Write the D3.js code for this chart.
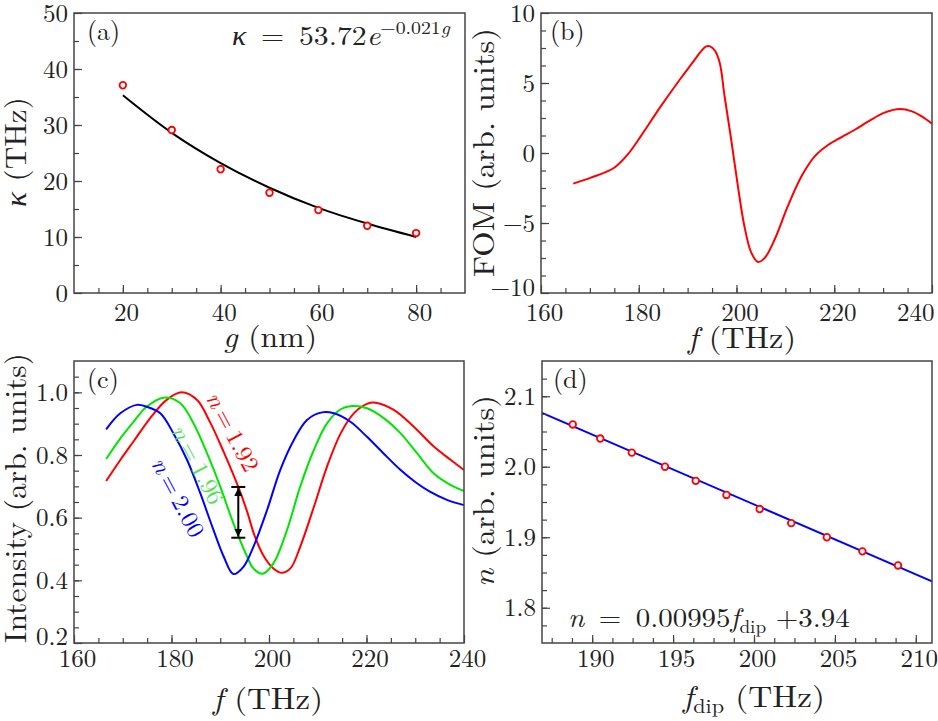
<!DOCTYPE html>
<html><head><meta charset="utf-8">
<script src="https://cdn.jsdelivr.net/npm/d3@7"></script>
<style>body{margin:0;background:#fff}</style>
</head><body>
<script>
// ---------- DATA ----------
// (a) coupling vs gap
const gapNm = [20, 30, 40, 50, 60, 70, 80];
const kappaTHz = [37.1, 29.1, 22.1, 17.9, 14.8, 12.0, 10.7];
const fitGap = [20, 30, 40, 50, 60, 70, 80];
const fitKappa = [35.3, 28.6, 23.2, 18.8, 15.2, 12.4, 10.0];
const aXTicks = [20, 40, 60, 80];
const aYTicks = [0, 10, 20, 30, 40, 50];

// (b) FOM spectrum
const fomFreq = [166.6,170.1,174.9,177.7,180.4,184.5,188.6,191.0,192.6,193.7,194.6,195.6,196.6,197.5,198.2,198.9,200.3,201.6,203.0,204.4,205.8,207.8,210.5,213.3,216.0,218.8,221.5,224.2,227.0,230.4,233.5,235.9,237.9,240];
const fomVal = [-2.19,-1.78,-1.07,-0.12,1.19,3.33,5.34,6.45,7.2,7.6,7.62,7.3,6.4,4.2,2.6,1.0,-2.4,-5.2,-7.1,-7.79,-7.48,-6.18,-3.8,-1.66,-0.24,0.59,1.14,1.66,2.26,2.9,3.14,2.97,2.61,2.09];
const bXTicks = [160, 180, 200, 220, 240];
const bYTicks = [-10, -5, 0, 5, 10];

// (c) transmission spectra for three refractive indices
const freqN192 = [166.6,169.5,172.2,175.6,179.0,182.1,185.2,187.9,190.7,193.7,195.5,197.1,199.0,200.9,202.6,204.4,206.4,209.2,211.9,214.7,217.4,220.1,221.8,225.6,229.7,233.8,237.3,240];
const intN192 = [0.717,0.784,0.843,0.917,0.976,1.0,0.976,0.905,0.81,0.698,0.62,0.54,0.475,0.438,0.424,0.438,0.507,0.634,0.763,0.869,0.933,0.963,0.967,0.944,0.89,0.827,0.784,0.752];
const freqN196 = [166.6,169.5,172.2,174.9,178.4,181.8,184.5,187.3,190.0,192.7,195.5,196.8,198.7,200.9,203.7,206.4,209.2,211.9,214.7,217.1,220.1,223.6,227.0,230.4,233.8,237.3,240];
const intN196 = [0.787,0.853,0.906,0.954,0.983,0.965,0.901,0.805,0.699,0.582,0.476,0.438,0.421,0.454,0.561,0.699,0.816,0.901,0.946,0.956,0.949,0.917,0.869,0.805,0.741,0.704,0.685];
const freqN200 = [166.6,169.5,172.9,174.9,177.7,180.4,183.2,185.9,188.6,190.7,192.7,194.8,196.8,199.6,202.3,205.1,207.8,210.9,213.3,216.7,220.1,223.5,227.0,230.0,233.0,236.5,240];
const intN200 = [0.882,0.933,0.96,0.954,0.933,0.869,0.784,0.678,0.561,0.476,0.42,0.444,0.507,0.624,0.752,0.848,0.912,0.936,0.933,0.906,0.858,0.805,0.752,0.714,0.683,0.657,0.64];
const seriesNames = ["1.92", "1.96", "2.00"];
const seriesColors = ["#ff0000", "#00e600", "#0000ff"];
const labelColors = ["#ff0000", "#55e055", "#0000ff"];
const labelAnchorF = [192.4, 185.2, 181.2];
const labelAnchorI = [0.872, 0.768, 0.663];
const arrowF = [193.7];
const arrowI = [0.698, 0.536];
const cXTicks = [160, 180, 200, 220, 240];
const cYTicks = [0.2, 0.4, 0.6, 0.8, 1.0];

// (d) index vs dip frequency
const dipFreq = [188.8,190.5,192.45,194.5,196.4,198.3,200.35,202.3,204.5,206.7,208.9];
const dipN = [2.06,2.04,2.02,2.00,1.98,1.96,1.94,1.92,1.90,1.88,1.86];
const lineFreq = [186.9, 211.0];
const lineN = [2.0765, 1.8375];
const dXTicks = [190, 195, 200, 205, 210];
const dYTicks = [1.8, 1.9, 2.0, 2.1];

// ---------- DRAWING ----------
const W = 938, H = 721;
const FONT = "Latin Modern Roman";
const GREEK = "Liberation Serif";
const TXT = "#222";
const FRAME = "#444";
const svg = d3.select("body").append("svg").attr("width", W).attr("height", H)
  .attr("font-family", FONT).style("background", "#fff");

function zipXY(xs, ys) { return xs.map((x, i) => [x, ys[i]]); }

function drawAxes(p, o) {
  const {x, y} = p;
  const [x0, x1] = x.range(), [y1, y0] = y.range();
  const gMinX = svg.append("g").attr("transform", `translate(0,${y1})`)
    .call(d3.axisBottom(x).tickValues(o.xMinor).tickSize(-5).tickFormat(""));
  const gMinY = svg.append("g").attr("transform", `translate(${x0},0)`)
    .call(d3.axisLeft(y).tickValues(o.yMinor).tickSize(-5).tickFormat(""));
  const gX = svg.append("g").attr("transform", `translate(0,${y1})`)
    .call(d3.axisBottom(x).tickValues(o.xTicks).tickSize(-8).tickPadding(o.xPad).tickFormat(o.xFmt || d3.format("d")));
  const gY = svg.append("g").attr("transform", `translate(${x0},0)`)
    .call(d3.axisLeft(y).tickValues(o.yTicks).tickSize(-8).tickPadding(6).tickFormat(o.yFmt || d3.format("d")));
  [gMinX, gMinY, gX, gY].forEach(g => {
    g.attr("font-family", FONT).attr("font-size", 25);
    g.select(".domain").remove();
    g.selectAll("line").attr("stroke", FRAME).attr("stroke-width", 1.2);
    g.selectAll("text").attr("font-family", FONT).attr("font-size", 25).attr("fill", TXT);
  });
  gX.selectAll("text").attr("dx", 3);
  svg.append("rect").attr("x", x0).attr("y", y0).attr("width", x1 - x0).attr("height", y1 - y0)
    .attr("fill", "none").attr("stroke", FRAME).attr("stroke-width", 1.5);
  return {gX, gY};
}

function fitted(px, py, rot, target, anchor, size, build) {
  const g = svg.append("g").attr("transform", `translate(${px},${py}) rotate(${rot})`);
  const t = g.append("text").attr("text-anchor", anchor).attr("font-family", FONT)
    .attr("font-size", size).attr("fill", TXT);
  build(t);
  if (target) {
    const w = t.node().getComputedTextLength();
    t.attr("transform", `scale(${target / w},1)`);
  }
  return t;
}
const it = (t, s) => t.append("tspan").attr("font-style", "italic").text(s);
const gk = (t, s) => t.append("tspan").attr("font-style", "italic").attr("font-family", GREEK).text(s);
const rm = (t, s) => t.append("tspan").text(s);

const line = d3.line().curve(d3.curveCatmullRom.alpha(0.5));

// ===== Panel (a) =====
const pa = {x: d3.scaleLinear([10, 90], [74, 465]), y: d3.scaleLinear([0, 50], [293, 13])};
svg.append("path").attr("fill", "none").attr("stroke", "#000").attr("stroke-width", 2)
  .attr("d", line(zipXY(fitGap, fitKappa).map(d => [pa.x(d[0]), pa.y(d[1])])));
svg.append("g").selectAll("circle").data(zipXY(gapNm, kappaTHz)).join("circle")
  .attr("cx", d => pa.x(d[0])).attr("cy", d => pa.y(d[1])).attr("r", 3.3)
  .attr("fill", "#fff").attr("stroke", "#ff0000").attr("stroke-width", 1.8);
drawAxes(pa, {xTicks: aXTicks, yTicks: aYTicks, xMinor: d3.range(15, 90, 5), yMinor: d3.range(5, 50, 5), xPad: 10});
fitted(87, 40, 0, null, "start", 26, t => rm(t, "(a)"));
fitted(232, 45, 0, 218, "start", 27, t => {
  gk(t, "κ"); rm(t, "\u2002=\u2002"); rm(t, "53.72"); it(t, "e");
  t.append("tspan").attr("font-size", 18).attr("dy", -11).text("−0.021");
  t.append("tspan").attr("font-size", 18).attr("font-style", "italic").text("g");
});
fitted(26, 152, -90, 110, "middle", 30, t => { gk(t, "κ"); rm(t, " (THz)"); });
fitted(270, 347, 0, 94, "middle", 30, t => { it(t, "g"); rm(t, " (nm)"); });

// ===== Panel (b) =====
const pb = {x: d3.scaleLinear([160, 240], [541, 932]), y: d3.scaleLinear([-10, 10], [293, 13])};
svg.append("path").attr("fill", "none").attr("stroke", "#ff0000").attr("stroke-width", 2)
  .attr("d", line(zipXY(fomFreq, fomVal).map(d => [pb.x(d[0]), pb.y(d[1])])));
const axB = drawAxes(pb, {xTicks: bXTicks, yTicks: bYTicks, xMinor: d3.range(165, 240, 5), yMinor: d3.range(-8.75, 10, 1.25), xPad: 10});
axB.gX.selectAll("text").filter(d => d === 240).attr("text-anchor", "end").attr("dx", 2);
axB.gY.selectAll("text").filter(d => d === -10).attr("y", -6);
fitted(550, 40, 0, null, "start", 26, t => rm(t, "(b)"));
fitted(494, 152.5, -90, 249, "middle", 30, t => rm(t, "FOM (arb. units)"));
fitted(742, 348, 0, 108, "middle", 30, t => { it(t, "f"); rm(t, " (THz)"); });

// ===== Panel (c) =====
const pc = {x: d3.scaleLinear([160, 240], [74, 464]), y: d3.scaleLinear([0.2, 1.1], [643, 361])};
const cSeries = [zipXY(freqN192, intN192), zipXY(freqN196, intN196), zipXY(freqN200, intN200)];
svg.append("g").selectAll("path").data(cSeries).join("path")
  .attr("fill", "none").attr("stroke", (d, i) => seriesColors[i]).attr("stroke-width", 2)
  .attr("d", d => line(d.map(p => [pc.x(p[0]), pc.y(p[1])])));
seriesNames.forEach((nm, i) => {
  const g = svg.append("g").attr("transform", `translate(${pc.x(labelAnchorF[i])},${pc.y(labelAnchorI[i])}) rotate(62)`);
  const t = g.append("text").attr("text-anchor", "middle").attr("dy", "0.3em").attr("font-family", FONT)
    .attr("font-size", 24).attr("fill", labelColors[i]);
  t.append("tspan").attr("font-style", "italic").text("n");
  t.append("tspan").text("\u2009=\u2009" + nm);
  const w = t.node().getComputedTextLength();
  t.attr("transform", `scale(${86 / w},1)`);
});
const defs = svg.append("defs");
defs.append("marker").attr("id", "ah").attr("viewBox", "0 0 10 10").attr("refX", 10).attr("refY", 5)
  .attr("markerWidth", 4).attr("markerHeight", 5).attr("markerUnits", "strokeWidth").attr("orient", "auto-start-reverse")
  .append("path").attr("d", "M0,0 L10,5 L0,10 Z").attr("fill", "#000");
const ax = pc.x(arrowF[0]);
svg.append("line").attr("x1", ax).attr("x2", ax).attr("y1", pc.y(arrowI[0]) + 1).attr("y2", pc.y(arrowI[1]) - 1)
  .attr("stroke", "#000").attr("stroke-width", 2).attr("marker-start", "url(#ah)").attr("marker-end", "url(#ah)");
arrowI.forEach(v => svg.append("line").attr("x1", ax - 7).attr("x2", ax + 7).attr("y1", pc.y(v)).attr("y2", pc.y(v))
  .attr("stroke", "#000").attr("stroke-width", 2));
const axC = drawAxes(pc, {xTicks: cXTicks, yTicks: cYTicks, xMinor: d3.range(165, 240, 5), yMinor: d3.range(0.25, 1.1, 0.05), xPad: 6, yFmt: d3.format(".1f")});
axC.gY.selectAll("text").filter(d => d === 0.2).attr("y", -7);
fitted(87, 388, 0, null, "start", 26, t => rm(t, "(c)"));
fitted(26, 498, -90, 290, "middle", 30, t => rm(t, "Intensity (arb. units)"));
fitted(268, 709, 0, 110, "middle", 30, t => { it(t, "f"); rm(t, " (THz)"); });

// ===== Panel (d) =====
const pd = {x: d3.scaleLinear([186.9, 211.0], [542, 932]), y: d3.scaleLinear([1.75, 2.15], [643, 361])};
svg.append("path").attr("fill", "none").attr("stroke", "#0000ff").attr("stroke-width", 2)
  .attr("d", d3.line()(zipXY(lineFreq, lineN).map(d => [pd.x(d[0]), pd.y(d[1])])));
svg.append("g").selectAll("circle").data(zipXY(dipFreq, dipN)).join("circle")
  .attr("cx", d => pd.x(d[0])).attr("cy", d => pd.y(d[1])).attr("r", 3.3)
  .attr("fill", "#fff").attr("stroke", "#ff0000").attr("stroke-width", 1.8);
drawAxes(pd, {xTicks: dXTicks, yTicks: dYTicks, xMinor: d3.range(187.5, 211, 1.25), yMinor: d3.range(1.775, 2.15, 0.025), xPad: 6, yFmt: d3.format(".1f")});
fitted(553, 388, 0, null, "start", 26, t => rm(t, "(d)"));
fitted(568, 627, 0, 282, "start", 27, t => {
  it(t, "n"); rm(t, "\u2002=\u2002"); rm(t, "0.00995"); it(t, "f");
  t.append("tspan").attr("font-size", 18).attr("dy", 6).text("dip");
  t.append("tspan").attr("dy", -6).text(" +3.94");
});
fitted(494, 491, -90, 192, "middle", 30, t => { it(t, "n"); rm(t, " (arb. units)"); });
fitted(754, 707, 0, 142, "middle", 30, t => {
  it(t, "f"); t.append("tspan").attr("font-size", 20).attr("dy", 6).text("dip");
  t.append("tspan").attr("dy", -6).text(" (THz)");
});
</script></body></html>
